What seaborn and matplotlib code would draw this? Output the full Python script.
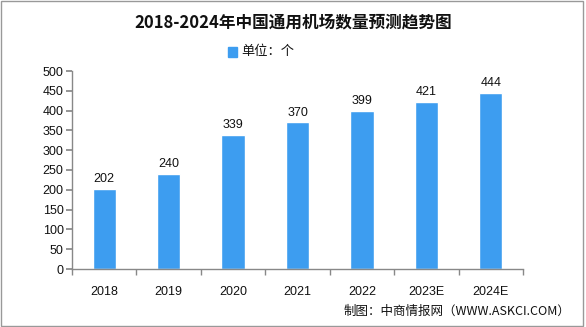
import matplotlib
matplotlib.use("Agg")
import matplotlib.pyplot as plt
import seaborn as sns
import pandas as pd
from matplotlib.patches import Rectangle

years = ["2018", "2019", "2020", "2021", "2022", "2023E", "2024E"]
values = [202, 240, 339, 370, 399, 421, 444]
title = "2018-2024年中国通用机场数量预测趋势图"
legend_label = "单位：个"
source = "制图：中商情报网（WWW.ASKCI.COM）"

sns.set_theme(style="white")
plt.rcParams['font.family'] = ['Liberation Sans', 'Noto Sans CJK SC', 'DejaVu Sans']

df = pd.DataFrame({"year": years, "value": values})
fig = plt.figure(figsize=(5.86, 3.27), dpi=100)
ax = fig.add_axes([72/586, 1-269/327, (523-72)/586, (269-71)/327])
color = "#3d9df0"
sns.barplot(data=df, x="year", y="value", color=color, width=0.36, ax=ax, saturation=1)
ax.set_xlim(-0.5, len(years)-0.5)
ax.set_ylim(0, 500)
ax.set_yticks(range(0, 501, 50))
ax.set_xlabel("")
ax.set_ylabel("")
for s in ["top", "right"]:
    ax.spines[s].set_visible(False)
for s in ["left", "bottom"]:
    ax.spines[s].set_color("#888888")
    ax.spines[s].set_linewidth(1)
ax.tick_params(axis="y", left=True, length=4, color="#888888", labelsize=9, labelcolor="#111111", pad=2)
ax.tick_params(axis="x", bottom=False, labelsize=9, labelcolor="#111111", pad=6)
ax.set_xticks([i - 0.5 for i in range(len(years)+1)], minor=True)
ax.tick_params(axis="x", which="minor", bottom=True, length=4, color="#888888")
for i, v in enumerate(values):
    ax.text(i, v + 10, str(v), ha="center", va="bottom", fontsize=9, color="#111111")

fig.text(0.5, 1-22/327, title, ha="center", va="center", fontsize=12, fontweight="bold", color="#111111",
         family=['Noto Sans CJK SC', 'DejaVu Sans'])
fig.patches.append(Rectangle((228/586, 1-57/327), 9/586, 10/327, transform=fig.transFigure, color=color))
fig.text(241/586, 1-52/327, legend_label, ha="left", va="center", fontsize=9.5, color="#111111",
         family=['Noto Sans CJK SC', 'DejaVu Sans'])
fig.text(344/586, 1-311/327, source, ha="left", va="center", fontsize=9, color="#111111",
         family=['Noto Sans CJK SC', 'DejaVu Sans'])
fig.patches.append(Rectangle((1/586, 1/327), 582/586, 325/327, transform=fig.transFigure, fill=False, edgecolor="#999999", linewidth=1))
fig.savefig("out.png", dpi=100)
